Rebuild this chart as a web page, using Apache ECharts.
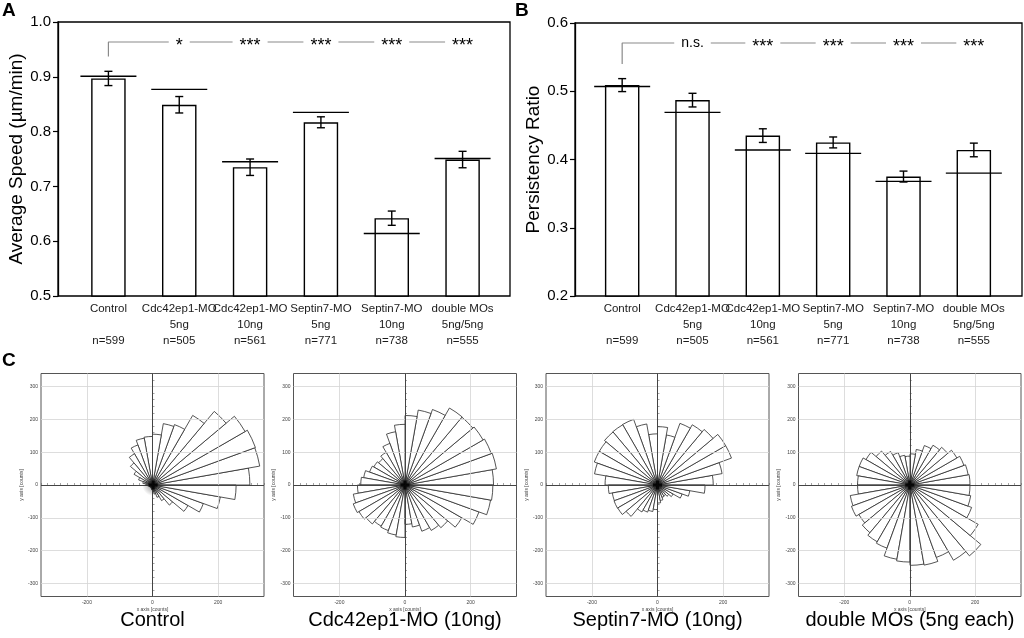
<!DOCTYPE html>
<html><head><meta charset="utf-8">
<script src="https://cdn.jsdelivr.net/npm/echarts@6/dist/echarts.min.js"></script>
<style>html,body{margin:0;padding:0;background:#fff}#chart{width:1024px;height:638px}</style>
</head><body><div id="chart"></div>
<script>
const FONT = "'Liberation Sans', Arial, sans-serif";

// ---------- bar chart data ----------
const categories = ['Control', 'Cdc42ep1-MO\n5ng', 'Cdc42ep1-MO\n10ng', 'Septin7-MO\n5ng', 'Septin7-MO\n10ng', 'double MOs\n5ng/5ng'];
const cellCounts = ['n=599', 'n=505', 'n=561', 'n=771', 'n=738', 'n=555'];

const speedMean = [0.897, 0.849, 0.735, 0.817, 0.642, 0.749];
const speedSem  = [0.013, 0.015, 0.015, 0.010, 0.013, 0.015];
const speedRef  = [0.901, 0.877, 0.745, 0.835, 0.614, 0.751];
const speedSig  = ['', '*', '***', '***', '***', '***'];
const speedBracket = [0.937, 0.9635];

const persistMean = [0.509, 0.487, 0.435, 0.425, 0.375, 0.414];
const persistSem  = [0.0095, 0.010, 0.010, 0.008, 0.008, 0.010];
const persistRef  = [0.507, 0.469, 0.414, 0.409, 0.368, 0.380];
const persistSig  = ['', 'n.s.', '***', '***', '***', '***'];
const persistBracket = [0.540, 0.5707];

// ---------- rose plot data (counts per 10 degree bin, counter-clockwise from +x) ----------
const roseAngles = [0,10,20,30,40,50,60,70,80,90,100,110,120,130,140,150,160,170,180,190,200,210,220,230,240,250,260,270,280,290,300,310,320,330,340,350];
const controlRose = [297,332,334,326,293,245,196,190,155, 148,145,130,110,88,65,45,30,20, 15,12,10,9,9,9,10,12,15, 20,28,40,55,80,125,165,210,255];
const cdc42Rose   = [270,283,280,275,270,271,245,232,212, 185,165,135,115,105,110,115,128,135, 145,160,168,162,155,145,148,155,160, 120,130,150,160,170,200,240,265,268];
const septinRose  = [170,200,240,240,221,212,200,155,178, 156,189,213,212,211,205,205,195,160, 150,140,141,140,125,95,88,82,75, 55,48,40,38,45,55,80,100,145];
const doubleRose  = [183,180,175,165,150,140,128,110,95, 88,92,105,118,135,155,165,165,160, 160,185,190,180,190,200,205,230,235, 245,248,235,265,282,240,200,188,183];
const roseSets = [controlRose, cdc42Rose, septinRose, doubleRose];
const centerOfMass = [[[2, 0]], [[0, 0]], [[0, 0]], [[0, 0]]];
const roseTitles = ['Control', 'Cdc42ep1-MO (10ng)', 'Septin7-MO (10ng)', 'double MOs (5ng each)'];
const roseTickX = [-200, 0, 200];
const roseTickY = [-300, -200, -100, 0, 100, 200, 300];
const roseGridX = [-200, 200];
const roseGridY = [-300, -200, -100, 100, 200, 300];

// ---------- layout ----------
const grids = [], xAxes = [], yAxes = [], series = [];
const titles = [];

function barPanel(frame, bars, yMin, yMax, yName, means, sems, refs, sigs, bracket) {
  const gf = grids.length;
  grids.push({left: frame.left, top: frame.top, width: frame.width, height: frame.height,
    show: true, borderColor: '#000', borderWidth: 1.3, backgroundColor: 'transparent'});
  xAxes.push({gridIndex: gf, type: 'value', min: 0, max: 1, show: false});
  yAxes.push({gridIndex: gf, type: 'value', min: yMin, max: yMax, interval: 0.1,
    axisLine: {show: true, lineStyle: {color: '#000', width: 1.3}},
    axisTick: {show: true, inside: false, length: 5, lineStyle: {color: '#000', width: 1.2}},
    splitLine: {show: false},
    axisLabel: {fontSize: 15, color: '#000', fontFamily: FONT, margin: 7, formatter: v => v.toFixed(1)},
    name: yName, nameLocation: 'middle', nameRotate: 90, nameGap: 32,
    nameTextStyle: {fontSize: 19, color: '#000', fontFamily: FONT}});
  const gb = grids.length;
  grids.push({left: bars.left, top: frame.top, width: bars.width, height: frame.height});
  xAxes.push({gridIndex: gb, type: 'category', data: categories,
    axisLine: {show: false}, axisTick: {show: false},
    axisLabel: {fontSize: 11.5, color: '#1a1a1a', fontFamily: FONT, margin: 5, lineHeight: 16, interval: 0,
      formatter: (v, i) => (v.indexOf('\n') >= 0 ? v : v + '\n') + '\n' + cellCounts[i]}});
  yAxes.push({gridIndex: gb, type: 'value', min: yMin, max: yMax, interval: 0.1, show: false});

  series.push({type: 'bar', xAxisIndex: gb, yAxisIndex: gb, data: means, barWidth: 34.5,
    itemStyle: {color: '#fff', borderColor: '#000', borderWidth: 1.4}, z: 2, silent: true});
  series.push({type: 'custom', xAxisIndex: gb, yAxisIndex: gb, z: 4, silent: true,
    data: means.map((m, i) => [i, m, sems[i]]),
    encode: {x: 0, y: 1},
    renderItem: (params, api) => {
      const i = api.value(0), m = api.value(1), s = api.value(2);
      const t = api.coord([i, m + s]), b = api.coord([i, m - s]);
      const hw = 4, st = {stroke: '#000', lineWidth: 1.4};
      return {type: 'group', children: [
        {type: 'line', shape: {x1: t[0], y1: t[1], x2: b[0], y2: b[1]}, style: st},
        {type: 'line', shape: {x1: t[0] - hw, y1: t[1], x2: t[0] + hw, y2: t[1]}, style: st},
        {type: 'line', shape: {x1: b[0] - hw, y1: b[1], x2: b[0] + hw, y2: b[1]}, style: st}
      ]};
    }});
  series.push({type: 'custom', xAxisIndex: gb, yAxisIndex: gb, z: 5, silent: true,
    data: refs.map((r, i) => [i, r]),
    encode: {x: 0, y: 1},
    renderItem: (params, api) => {
      const c = api.coord([api.value(0), api.value(1)]);
      return {type: 'line', shape: {x1: c[0] - 28, y1: c[1], x2: c[0] + 28, y2: c[1]},
        style: {stroke: '#000', lineWidth: 1.4}};
    }});
  series.push({type: 'line', xAxisIndex: gb, yAxisIndex: gb, z: 3, silent: true,
    data: [[0, bracket[0]], [0, bracket[1]], [categories.length - 1, bracket[1]]],
    symbol: 'none', lineStyle: {color: '#8a8a8a', width: 1.2}});
  const sigItems = [];
  sigs.forEach((s, i) => { if (s) sigItems.push([i, bracket[1]]); });
  const sigTexts = sigs.filter(s => s);
  series.push({type: 'custom', xAxisIndex: gb, yAxisIndex: gb, z: 6, silent: true,
    data: sigItems, encode: {x: 0, y: 1},
    renderItem: (params, api) => {
      const c = api.coord([api.value(0), api.value(1)]);
      const txt = sigTexts[params.dataIndex];
      const star = txt.indexOf('*') >= 0;
      return {type: 'text', x: c[0], y: c[1] + (star ? 4 : 0),
        style: {text: txt, fill: '#000', fontSize: star ? 18 : 14, fontFamily: FONT,
          align: 'center', verticalAlign: 'middle', backgroundColor: '#fff', padding: [0, 7]}};
    }});
}

barPanel({left: 58, top: 22, width: 452, height: 274}, {left: 73, width: 425},
  0.5, 1.0, 'Average Speed (µm/min)', speedMean, speedSem, speedRef, speedSig, speedBracket);
barPanel({left: 575, top: 23, width: 447, height: 273}, {left: 587, width: 422},
  0.2, 0.6, 'Persistency Ratio', persistMean, persistSem, persistRef, persistSig, persistBracket);

// rose panels
const roseLefts = [41, 293.5, 546, 798.5];
const roseTop = 373.5, roseSize = 223;
const polars = [], angleAxes = [], radiusAxes = [];
const plusPath = 'path://M-1,-3H1V-1H3V1H1V3H-1V1H-3V-1H-1Z';
roseLefts.forEach((L, k) => {
  const g = grids.length;
  grids.push({left: L, top: roseTop, width: roseSize, height: roseSize,
    show: true, borderColor: '#555', borderWidth: 1, backgroundColor: 'transparent'});
  const tickStyle = {show: true, inside: true, length: 2, lineStyle: {color: '#666', width: 0.6}};
  xAxes.push({gridIndex: g, type: 'value', min: -340, max: 340, interval: 20,
    axisLine: {show: false}, axisTick: tickStyle, splitLine: {show: false},
    axisLabel: {fontSize: 5, color: '#444', margin: 4, fontFamily: FONT,
      formatter: v => roseTickX.indexOf(v) >= 0 ? String(v) : ''},
    name: 'x axis [counts]', nameLocation: 'middle', nameGap: 11,
    nameTextStyle: {fontSize: 5, color: '#444', fontFamily: FONT}});
  yAxes.push({gridIndex: g, type: 'value', min: -340, max: 340, interval: 20,
    axisLine: {show: false}, axisTick: tickStyle, splitLine: {show: false},
    axisLabel: {fontSize: 5, color: '#444', margin: 3, fontFamily: FONT,
      formatter: v => roseTickY.indexOf(v) >= 0 ? String(v) : ''},
    name: 'y axis [counts]', nameLocation: 'middle', nameGap: 13, nameRotate: 90,
    nameTextStyle: {fontSize: 5, color: '#444', fontFamily: FONT}});
  polars.push({center: [L + roseSize / 2, roseTop + roseSize / 2], radius: roseSize / 2});
  angleAxes.push({polarIndex: k, type: 'category', data: roseAngles, startAngle: 0, clockwise: false, show: false});
  radiusAxes.push({polarIndex: k, type: 'value', min: 0, max: 340, show: false});
  series.push({type: 'scatter', xAxisIndex: g, yAxisIndex: g, data: centerOfMass[k], symbolSize: 0, z: 1, silent: true,
    markLine: {silent: true, symbol: 'none', animation: false, label: {show: false},
      lineStyle: {color: '#d4d4d4', width: 0.8, type: 'solid'},
      data: roseGridX.map(v => ({xAxis: v})).concat(roseGridY.map(v => ({yAxis: v})))
        .concat([{xAxis: 0, lineStyle: {color: '#444', width: 1, type: 'solid'}},
                 {yAxis: 0, lineStyle: {color: '#444', width: 1, type: 'solid'}}])}});
  series.push({type: 'bar', coordinateSystem: 'polar', polarIndex: k, data: roseSets[k],
    barCategoryGap: '0%', z: 3, silent: true,
    itemStyle: {color: '#fff', borderColor: '#2a2a2a', borderWidth: 0.8}});
  series.push({type: 'scatter', xAxisIndex: g, yAxisIndex: g, data: centerOfMass[k], z: 5, silent: true,
    symbol: 'circle', symbolSize: 22,
    itemStyle: {color: {type: 'radial', x: 0.5, y: 0.5, r: 0.5,
      colorStops: [{offset: 0, color: 'rgba(0,0,0,0.55)'}, {offset: 1, color: 'rgba(0,0,0,0)'}]}}});
  series.push({type: 'scatter', xAxisIndex: g, yAxisIndex: g, data: centerOfMass[k], z: 6, silent: true,
    symbol: plusPath, symbolSize: 9, itemStyle: {color: '#000'}});
  titles.push({text: roseTitles[k], left: L + roseSize / 2, top: 610, textAlign: 'center', padding: 0,
    textStyle: {fontSize: 20, fontWeight: 'normal', color: '#000', fontFamily: FONT}});
});

titles.push({text: 'A', left: 2, top: 1, padding: 0, textStyle: {fontSize: 19, fontWeight: 'bold', color: '#000', fontFamily: FONT}});
titles.push({text: 'B', left: 515, top: 1, padding: 0, textStyle: {fontSize: 19, fontWeight: 'bold', color: '#000', fontFamily: FONT}});
titles.push({text: 'C', left: 2, top: 351, padding: 0, textStyle: {fontSize: 19, fontWeight: 'bold', color: '#000', fontFamily: FONT}});

const chart = echarts.init(document.getElementById('chart'));
chart.setOption({
  animation: false,
  backgroundColor: '#fff',
  title: titles,
  grid: grids, xAxis: xAxes, yAxis: yAxes,
  polar: polars, angleAxis: angleAxes, radiusAxis: radiusAxes,
  series: series
});
</script></body></html>
